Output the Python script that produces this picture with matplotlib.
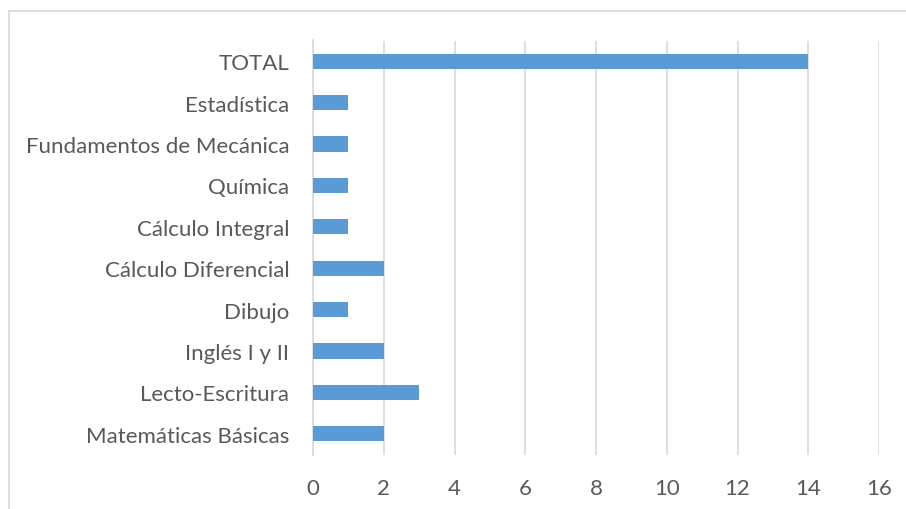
import matplotlib.pyplot as plt
from matplotlib.patches import Rectangle

categories = ["Matemáticas Básicas", "Lecto-Escritura", "Inglés I y II", "Dibujo",
              "Cálculo Diferencial", "Cálculo Integral", "Química",
              "Fundamentos de Mecánica", "Estadística", "TOTAL"]
values = [2, 3, 2, 1, 2, 1, 1, 1, 1, 14]
xticks = [0, 2, 4, 6, 8, 10, 12, 14, 16]

plt.rcParams['font.family'] = ['Lato', 'DejaVu Sans']
text_color = '#595959'
grid_color = '#D9D9D9'

fig = plt.figure(figsize=(9.06, 5.10), dpi=100)
fig.patches.append(Rectangle((9 / 906, -0.1), 1.1, 1 - 12 / 510 + 0.1,
                             transform=fig.transFigure, fill=False,
                             edgecolor=grid_color, linewidth=1.2))

ax = fig.add_axes([313 / 906, 1 - 455.5 / 510, 566 / 906, 414 / 510])
ax.barh(range(len(categories)), values, height=0.37, color='#5B9BD5', zorder=3)
ax.set_xlim(0, 16)
ax.set_ylim(-0.5, len(categories) - 0.5)
ax.set_xticks(xticks)
ax.set_yticks(range(len(categories)))
ax.set_yticklabels(categories)
ax.grid(axis='x', color=grid_color, linewidth=1.2, zorder=0)
for s in ['top', 'right', 'bottom']:
    ax.spines[s].set_visible(False)
ax.spines['left'].set_color(grid_color)
ax.spines['left'].set_linewidth(1.2)
ax.tick_params(length=0, labelsize=16, colors=text_color)
ax.tick_params(axis='y', pad=17)
ax.tick_params(axis='x', pad=17)

fig.savefig('out.png', dpi=100)
